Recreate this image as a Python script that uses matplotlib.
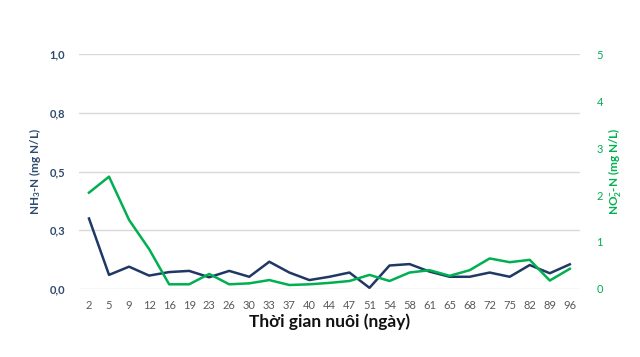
import matplotlib
matplotlib.use("Agg")
import matplotlib.pyplot as plt
import numpy as np

plt.rcParams['font.family'] = ['Lato', 'DejaVu Sans']
plt.rcParams['mathtext.fontset'] = 'custom'
plt.rcParams['mathtext.rm'] = 'Lato'
plt.rcParams['mathtext.bf'] = 'Lato:bold'
plt.rcParams['mathtext.default'] = 'bf'

# ngay nuoi
ngay = ["2", "5", "9", "12", "16", "19", "23", "26", "30", "33", "37", "40", "44",
        "47", "51", "54", "58", "61", "65", "68", "72", "75", "82", "89", "96"]

# NH3-N (mg N/L), truc trai
nh3 = [0.30, 0.06, 0.095, 0.057, 0.072, 0.077, 0.05, 0.077, 0.052, 0.116, 0.07,
       0.038, 0.052, 0.07, 0.005, 0.10, 0.106, 0.074, 0.052, 0.052, 0.07, 0.052,
       0.102, 0.067, 0.105]

# NO2-N (mg N/L), truc phai
no2 = [2.05, 2.39, 1.47, 0.85, 0.10, 0.10, 0.32, 0.10, 0.12, 0.19, 0.085, 0.10,
       0.13, 0.17, 0.30, 0.17, 0.35, 0.40, 0.28, 0.40, 0.65, 0.57, 0.62, 0.18, 0.43]

ticks_trai = [0, 0.25, 0.5, 0.75, 1.0]
nhan_trai = ["0,0", "0,3", "0,5", "0,8", "1,0"]
ticks_phai = [0, 1, 2, 3, 4, 5]

mau_nh3 = "#1F3864"
mau_no2 = "#00B050"
mau_chu_trai = "#2E4A6E"

fig = plt.figure(figsize=(6.4, 3.57), dpi=100)
ax = fig.add_axes([0.1234, 0.1905, 0.7826, 0.6582])
ax2 = ax.twinx()

x = np.arange(len(ngay))
ax.plot(x, nh3, color=mau_nh3, lw=1.8, zorder=3)
ax2.plot(x, no2, color=mau_no2, lw=1.8, zorder=3)

ax.set_xlim(-0.5, len(ngay) - 0.5)
ax.set_ylim(0, 1.0)
ax2.set_ylim(0, 5)

ax.set_yticks(ticks_trai)
ax.set_yticklabels(nhan_trai, fontweight="bold")
ax2.set_yticks(ticks_phai)
ax.set_xticks(x)
ax.set_xticklabels(ngay)

ax.grid(axis="y", color="#D9D9D9", lw=1)
ax.set_axisbelow(True)
for a in (ax, ax2):
    for s in a.spines.values():
        s.set_visible(False)

ax.tick_params(axis="x", length=0, labelsize=8, labelcolor="#595959", pad=8)
ax.tick_params(axis="y", length=0, labelsize=8, labelcolor=mau_chu_trai, pad=10)
ax2.tick_params(axis="y", length=0, labelsize=8, labelcolor=mau_no2, pad=12)

ax.set_xlabel("Thời gian nuôi (ngày)", fontsize=12.5, fontweight="bold",
              color="#111111", labelpad=2)
ax.set_ylabel(r"NH$_3$-N (mg N/L)", fontsize=8.5, fontweight="bold",
              color=mau_chu_trai, labelpad=5)
ax2.set_ylabel(r"NO$_2^{-}$-N (mg N/L)", fontsize=8.5, fontweight="bold",
               color=mau_no2, rotation=90, labelpad=2)

fig.savefig("out.png", dpi=100)
